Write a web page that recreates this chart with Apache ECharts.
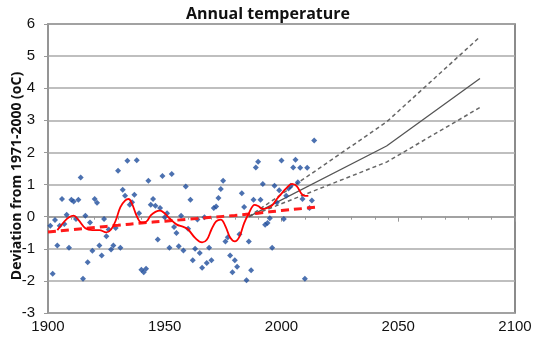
<!DOCTYPE html>
<html>
<head>
<meta charset="utf-8">
<script src="https://cdn.jsdelivr.net/npm/echarts@6/dist/echarts.min.js"></script>
<style>
html, body { margin: 0; padding: 0; background: #fff; }
#chart { width: 536px; height: 341px; }
</style>
</head>
<body>
<div id="chart"></div>
<script>
// yearly observations
var obsYears = [1901, 1902, 1903, 1904, 1905, 1906, 1907, 1908, 1909, 1910,
    1911, 1912, 1913, 1914, 1915, 1916, 1917, 1918, 1919, 1920,
    1921, 1922, 1923, 1924, 1925, 1926, 1927, 1928, 1929, 1930,
    1931, 1932, 1933, 1934, 1935, 1936, 1937, 1938, 1939, 1940,
    1941, 1942, 1943, 1944, 1945, 1946, 1947, 1948, 1949, 1950,
    1951, 1952, 1953, 1954, 1955, 1956, 1957, 1958, 1959, 1960,
    1961, 1962, 1963, 1964, 1965, 1966, 1967, 1968, 1969, 1970,
    1971, 1972, 1973, 1974, 1975, 1976, 1977, 1978, 1979, 1980,
    1981, 1982, 1983, 1984, 1985, 1986, 1987, 1988, 1989, 1990,
    1991, 1992, 1993, 1994, 1995, 1996, 1997, 1998, 1999, 2000,
    2001, 2002, 2003, 2004, 2005, 2006, 2007, 2008, 2009, 2010,
    2011, 2012, 2013, 2014];
var obsValues = [-0.28, -1.78, -0.1, -0.9, -0.28, 0.55, -0.23, 0.06, -0.97, 0.53,
    0.47, -0.07, 0.53, 1.22, -1.93, 0.03, -1.42, -0.18, -1.06, 0.55,
    0.43, -0.9, -1.21, -0.07, -0.61, -0.4, -1.02, -0.9, -0.35, 1.43,
    -0.97, 0.84, 0.65, 1.74, 0.37, 0.45, 0.68, 1.76, 0.11, -1.65,
    -1.73, -1.62, 1.12, 0.37, 0.55, 0.34, -0.71, 0.27, 1.27, -0.02,
    0.11, -0.97, 1.33, -0.32, -0.51, -0.92, 0.03, -1.05, 0.94, -0.38,
    0.53, -1.36, -1.0, -0.09, -1.13, -1.59, -0.02, -1.44, -0.97, -1.36,
    0.27, 0.32, 0.58, 0.86, 1.12, -0.77, -0.64, -1.21, -1.73, -1.36,
    -1.56, -0.55, 0.73, 0.3, -1.98, -0.77, -1.67, 0.53, 1.53, 1.71,
    0.53, 1.02, -0.25, -0.2, -0.05, -0.97, 0.96, 0.44, 0.82, 1.75,
    -0.07, 0.65, 0.88, 0.96, 1.53, 1.77, 1.07, 1.52, 0.55, -1.93,
    1.52, 0.27, 0.5, 2.37];

// smoothed curve
var smoothYears = [1904, 1907, 1909, 1911, 1913, 1916, 1919, 1922, 1925, 1927,
    1929, 1931, 1933, 1934.5, 1936, 1938, 1940, 1942, 1944, 1946,
    1948, 1950, 1952, 1955, 1958, 1960, 1963, 1966, 1968, 1970,
    1972, 1974, 1976, 1978, 1980, 1982, 1984, 1986, 1988.5, 1990,
    1992, 1994, 1996, 1998, 2000, 2002, 2004.5, 2006.5, 2008.5, 2010, 2011.5];
var smoothValues = [-0.42, -0.15, -0.02, 0.03, -0.1, -0.36, -0.42, -0.42, -0.49, -0.4,
    -0.12, 0.3, 0.5, 0.55, 0.4, 0.02, -0.18, -0.16, 0.04, 0.15,
    0.19, 0.1, -0.05, -0.24, -0.32, -0.4, -0.66, -0.8, -0.72, -0.4,
    -0.15, -0.09, -0.3, -0.65, -0.77, -0.62, -0.2, 0.1, 0.37, 0.33,
    0.24, 0.27, 0.35, 0.55, 0.72, 0.88, 1.02, 0.95, 0.72, 0.65, 0.65];

// long-term trend
var trendYears = [1900, 1910, 1920, 1930, 1940, 1950, 1960, 1970, 1980, 1990, 2000, 2010, 2015];
var trendValues = [-0.48, -0.41, -0.34, -0.27, -0.2, -0.14, -0.08, -0.02, 0.04, 0.11, 0.19, 0.26, 0.3];

// projections
var projYears = [1986, 2045, 2085];
var projMid = [0.0, 2.2, 4.3];
var projHigh = [0.0, 2.95, 5.6];
var projLow = [0.0, 1.7, 3.4];

var xTicks = [1900, 1950, 2000, 2050, 2100];

function pairs(xs, ys) {
    var out = [];
    for (var i = 0; i < xs.length; i++) {
        out.push([xs[i], ys[i]]);
    }
    return out;
}

var chart = echarts.init(document.getElementById('chart'));
var option = {
    animation: false,
    backgroundColor: '#fff',
    title: {
        text: 'Annual temperature',
        left: 'center',
        top: 1,
        textStyle: {
            fontFamily: 'Open Sans',
            fontWeight: 'bold',
            fontSize: 16,
            color: '#111'
        }
    },
    graphic: [{
        type: 'text',
        x: 17,
        y: 176,
        rotation: Math.PI / 2,
        style: {
            text: 'Deviation from 1971-2000 (oC)',
            fontFamily: 'Open Sans',
            fontWeight: 'bold',
            fontSize: 14,
            fill: '#111',
            align: 'center',
            verticalAlign: 'middle'
        }
    }],
    grid: {
        left: 48,
        right: 21,
        top: 24,
        bottom: 28,
        show: true,
        borderColor: '#666',
        borderWidth: 1.5
    },
    xAxis: {
        type: 'value',
        min: xTicks[0],
        max: xTicks[xTicks.length - 1],
        interval: 50,
        axisLine: { lineStyle: { color: '#999', width: 1.5 } },
        axisTick: { show: true, length: 5, lineStyle: { color: '#999' } },
        minorTick: { show: true, splitNumber: 5, length: 3, lineStyle: { color: '#999' } },
        splitLine: { show: false },
        axisLabel: {
            fontFamily: 'Liberation Sans',
            fontSize: 15,
            color: '#111',
            margin: 6,
            formatter: function(v) { return String(v); }
        }
    },
    yAxis: {
        type: 'value',
        min: -3,
        max: 6,
        interval: 1,
        axisLine: { show: true, lineStyle: { color: '#999', width: 1.5 } },
        axisTick: { show: true, inside: false, length: 4, lineStyle: { color: '#999' } },
        splitLine: { lineStyle: { color: '#aaa', width: 1.5 } },
        axisLabel: {
            fontFamily: 'Liberation Sans',
            fontSize: 15,
            color: '#111',
            margin: 13
        }
    },
    series: [{
        name: 'projection high',
        type: 'line',
        data: pairs(projYears, projHigh),
        showSymbol: false,
        lineStyle: { color: '#666', width: 1.5, type: [4, 3] },
        z: 2
    }, {
        name: 'projection low',
        type: 'line',
        data: pairs(projYears, projLow),
        showSymbol: false,
        lineStyle: { color: '#666', width: 1.5, type: [4, 3] },
        z: 2
    }, {
        name: 'projection',
        type: 'line',
        data: pairs(projYears, projMid),
        showSymbol: false,
        lineStyle: { color: '#555', width: 1.3 },
        z: 2
    }, {
        name: 'observed',
        type: 'scatter',
        data: pairs(obsYears, obsValues),
        symbol: 'diamond',
        symbolSize: 6,
        itemStyle: { color: '#1f4e9c' },
        z: 3
    }, {
        name: 'trend',
        type: 'line',
        data: pairs(trendYears, trendValues),
        showSymbol: false,
        smooth: true,
        lineStyle: { color: '#ff1a1a', width: 3, type: [8, 5] },
        z: 4
    }, {
        name: 'smoothed',
        type: 'line',
        data: pairs(smoothYears, smoothValues),
        showSymbol: false,
        smooth: 0.4,
        lineStyle: { color: '#ff0000', width: 1.8 },
        z: 5
    }]
};
chart.setOption(option);
</script>
</body>
</html>
